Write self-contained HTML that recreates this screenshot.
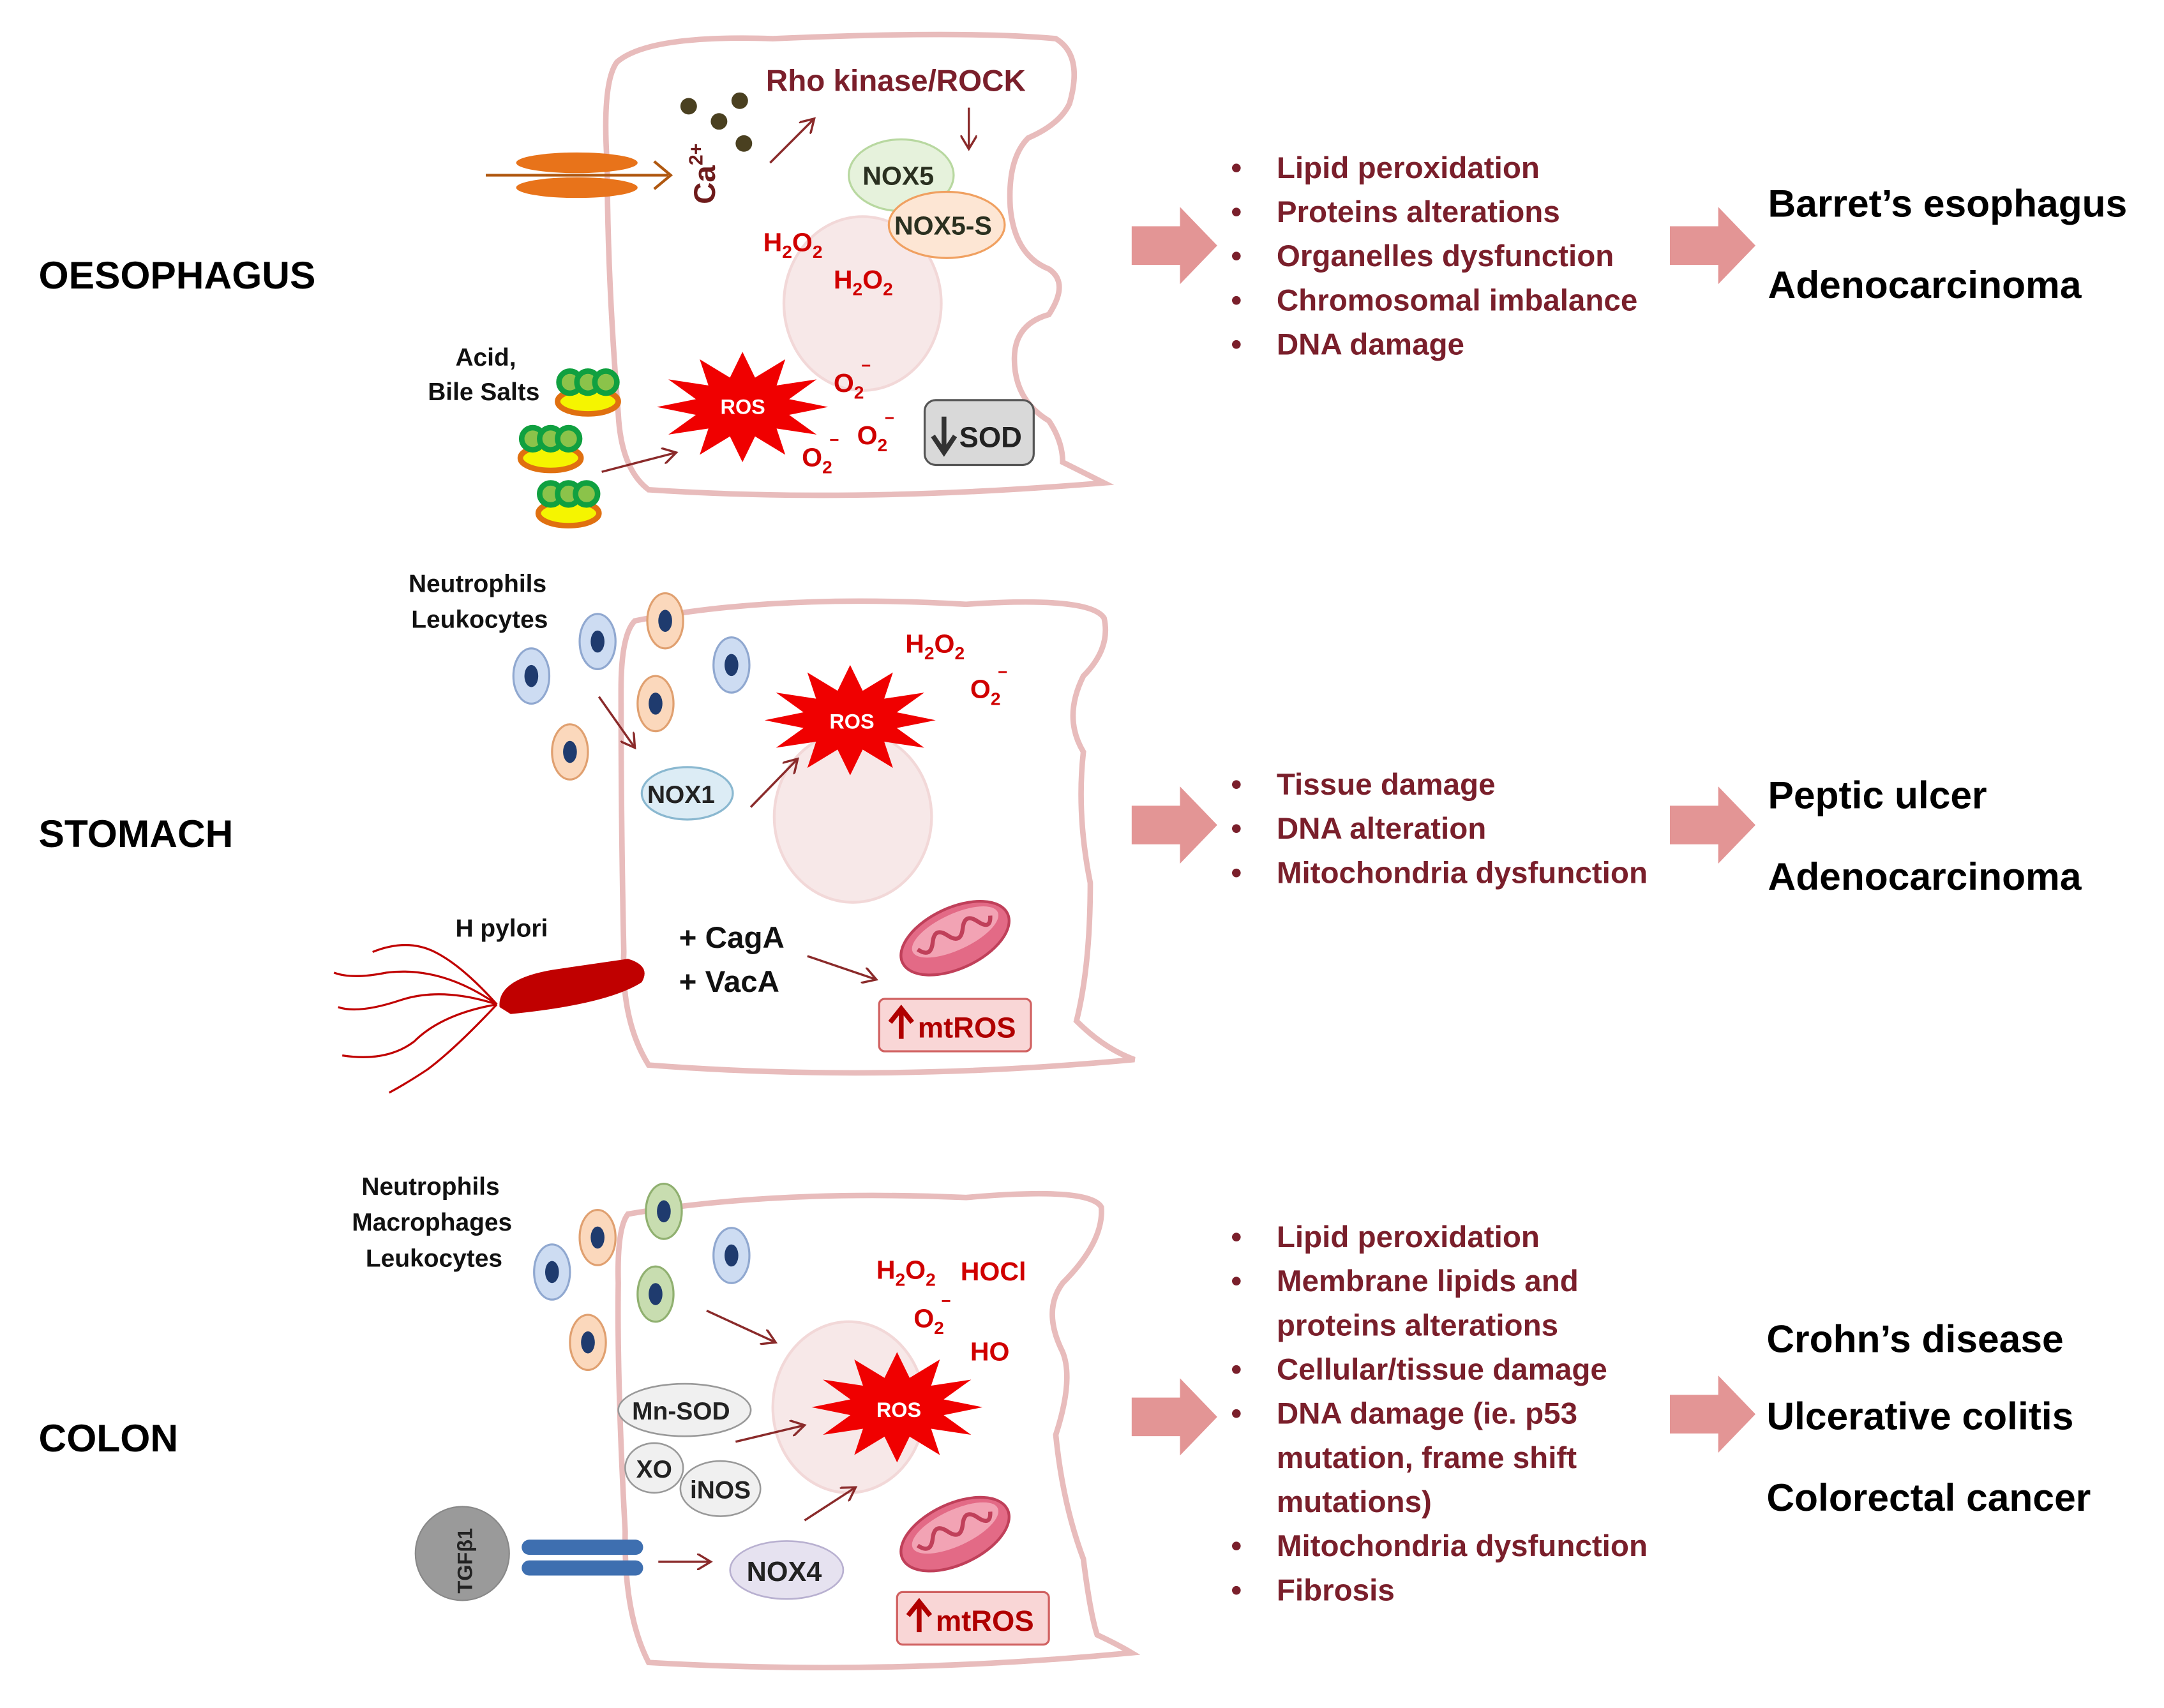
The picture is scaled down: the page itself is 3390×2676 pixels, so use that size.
<!DOCTYPE html>
<html><head><meta charset="utf-8"><style>
html,body{margin:0;padding:0;background:#fff;}
svg{display:block;}
text{font-family:"Liberation Sans",sans-serif;font-weight:bold;}
.b{fill:#7a1f2b;font-size:22px;}
.r{fill:#d00000;font-size:19px;}
.h{fill:#000;font-size:28px;}
.cell{fill:none;stroke:#e8bcbc;stroke-width:4;}
.nuc{fill:#f7e8e8;stroke:#f2d8d8;stroke-width:2;}
.ar{fill:none;stroke:#8a2a2a;stroke-width:1.6;}
</style></head><body>
<svg width="3390" height="2676" viewBox="0 0 1568 1238" preserveAspectRatio="none" xmlns="http://www.w3.org/2000/svg">
<defs>
<polygon id="star" points="62,0 33.8,5.7 53.7,20 24.7,15.6 31,34.6 9.1,21.3 0,40 -9.1,21.3 -31,34.6 -24.7,15.6 -53.7,20 -33.8,5.7 -62,0 -33.8,-5.7 -53.7,-20 -24.7,-15.6 -31,-34.6 -9.1,-21.3 0,-40 9.1,-21.3 31,-34.6 24.7,-15.6 53.7,-20 33.8,-5.7" fill="#f00000"/>
<g id="bcell"><ellipse rx="13" ry="20" fill="#cddcf2" stroke="#90a8d0" stroke-width="1.5"/><ellipse rx="5" ry="8" fill="#1f3b6e"/></g>
<g id="ocell"><ellipse rx="13" ry="20" fill="#fbd8bc" stroke="#e0a070" stroke-width="1.5"/><ellipse rx="5" ry="8" fill="#1f3b6e"/></g>
<g id="gcell"><ellipse rx="13" ry="20" fill="#c8ddb0" stroke="#90b070" stroke-width="1.5"/><ellipse rx="5" ry="8" fill="#1f3b6e"/></g>
<g id="bile"><ellipse cx="0" cy="12" rx="22" ry="9" fill="#f5f500" stroke="#e07010" stroke-width="4"/><circle cx="-13" cy="-2" r="8" fill="#8bc34a" stroke="#10a040" stroke-width="4"/><circle cx="0" cy="-2" r="8" fill="#8bc34a" stroke="#10a040" stroke-width="4"/><circle cx="13" cy="-2" r="8" fill="#8bc34a" stroke="#10a040" stroke-width="4"/></g>
<g id="bigarrow"><polygon points="0,-14 35,-14 35,-28 62,0 35,28 35,14 0,14" fill="#e39595"/></g>
<g id="mito"><ellipse rx="42" ry="22" fill="#e36a86" stroke="#c0405a" stroke-width="2"/><ellipse cx="2" cy="-4" rx="34" ry="13" fill="#f2a3b4"/><path d="M-28,-4 q6,10 12,0 q6,-10 12,0 q6,10 12,0 q6,-10 12,0 q6,10 10,0" stroke="#c0405a" stroke-width="3" fill="none"/></g>
<g id="uparr"><path d="M0,22 L0,2 M-8,10 L0,0 L8,10" stroke="#b00000" stroke-width="3.5" fill="none"/></g>
<marker id="m" markerWidth="12" markerHeight="12" refX="10" refY="6" orient="auto" markerUnits="userSpaceOnUse"><path d="M0,0 L10,6 L0,12" fill="none" stroke="#8a2a2a" stroke-width="1.6"/></marker>
</defs>

<text x="28" y="209" class="h">OESOPHAGUS</text>
<text x="28" y="614" class="h">STOMACH</text>
<text x="28" y="1052" class="h">COLON</text>

<!-- TOP CELL -->
<path class="cell" d="M447,45 Q470,25 560,28 Q700,22 765,28 Q785,40 775,75 Q768,90 745,100 Q730,115 732,150 Q735,185 760,195 Q775,205 760,228 Q735,235 735,260 Q735,290 760,305 Q770,320 770,335 Q790,345 800,350 Q620,365 470,355 Q450,340 448,300 Q440,200 440,120 Q436,60 447,45 Z"/>
<ellipse class="nuc" cx="625" cy="220" rx="57" ry="63"/>
<ellipse cx="418" cy="118" rx="44" ry="7.5" fill="#e8731a"/>
<ellipse cx="418" cy="136" rx="44" ry="7.5" fill="#e8731a"/>
<line x1="352" y1="127" x2="484" y2="127" stroke="#b05810" stroke-width="2"/>
<path d="M474,117 L486,127 L474,137" fill="none" stroke="#b05810" stroke-width="2"/>
<text transform="translate(518,148) rotate(-90)" style="font-size:22px;fill:#6e1b1b">Ca<tspan dy="-9" style="font-size:14px">2+</tspan></text>
<circle cx="499" cy="77" r="6" fill="#4a4020"/><circle cx="536" cy="73" r="6" fill="#4a4020"/><circle cx="521" cy="88" r="6" fill="#4a4020"/><circle cx="539" cy="104" r="6" fill="#4a4020"/>
<line class="ar" x1="558" y1="118" x2="590" y2="86" marker-end="url(#m)"/>
<text x="555" y="66" class="b" style="font-size:22px">Rho kinase/ROCK</text>
<line class="ar" x1="702" y1="78" x2="702" y2="108" marker-end="url(#m)"/>
<ellipse cx="653" cy="127" rx="38" ry="26" fill="#e6f2dc" stroke="#b8d8a0" stroke-width="1.5"/>
<text x="625" y="134" style="font-size:19px;fill:#2a3020">NOX5</text>
<ellipse cx="686" cy="163" rx="42" ry="24" fill="#fde6d4" stroke="#f0a060" stroke-width="1.5"/>
<text x="648" y="170" style="font-size:19px;fill:#2a3020">NOX5-S</text>
<text x="553" y="182" class="r">H<tspan dy="5" style="font-size:13px">2</tspan><tspan dy="-5">O</tspan><tspan dy="5" style="font-size:13px">2</tspan></text>
<text x="604" y="209" class="r">H<tspan dy="5" style="font-size:13px">2</tspan><tspan dy="-5">O</tspan><tspan dy="5" style="font-size:13px">2</tspan></text>
<use href="#star" x="538" y="295"/>
<text x="522" y="300" style="font-size:15px;fill:#fff">ROS</text>
<text x="604" y="284" class="r">O<tspan dy="5" style="font-size:13px">2</tspan><tspan dx="-2" dy="-20" style="font-size:12px">−</tspan></text>
<text x="621" y="322" class="r">O<tspan dy="5" style="font-size:13px">2</tspan><tspan dx="-2" dy="-20" style="font-size:12px">−</tspan></text>
<text x="581" y="338" class="r">O<tspan dy="5" style="font-size:13px">2</tspan><tspan dx="-2" dy="-20" style="font-size:12px">−</tspan></text>
<rect x="670" y="290" width="79" height="47" rx="8" fill="#d9d9d9" stroke="#555" stroke-width="1.5"/>
<path d="M684,302 L684,326 M676,316 L684,328 L692,316" stroke="#333" stroke-width="3.5" fill="none"/>
<text x="695" y="324" style="font-size:21px;fill:#222">SOD</text>
<text x="330" y="265" style="font-size:18px;fill:#111">Acid,</text>
<text x="310" y="290" style="font-size:18px;fill:#111">Bile Salts</text>
<use href="#bile" x="426" y="279"/>
<use href="#bile" x="399" y="320"/>
<use href="#bile" x="412" y="360"/>
<line class="ar" x1="436" y1="342" x2="490" y2="328" marker-end="url(#m)"/>

<use href="#bigarrow" x="820" y="178"/>
<g class="b">
<text x="892" y="129">•</text><text x="925" y="129">Lipid peroxidation</text>
<text x="892" y="161">•</text><text x="925" y="161">Proteins alterations</text>
<text x="892" y="193">•</text><text x="925" y="193">Organelles dysfunction</text>
<text x="892" y="225">•</text><text x="925" y="225">Chromosomal imbalance</text>
<text x="892" y="257">•</text><text x="925" y="257">DNA damage</text>
</g>
<use href="#bigarrow" x="1210" y="178"/>
<text x="1281" y="157" class="h">Barret’s esophagus</text>
<text x="1281" y="216" class="h">Adenocarcinoma</text>

<!-- MIDDLE CELL -->
<path class="cell" d="M460,450 Q560,430 700,438 Q790,432 800,448 Q805,470 785,490 Q770,520 785,545 Q780,590 790,640 Q790,700 780,740 Q800,760 822,768 Q640,785 470,772 Q450,740 452,690 Q450,600 450,500 Q450,460 460,450 Z"/>
<ellipse class="nuc" cx="618" cy="592" rx="57" ry="62"/>
<text x="296" y="429" style="font-size:18px;fill:#111">Neutrophils</text>
<text x="298" y="455" style="font-size:18px;fill:#111">Leukocytes</text>
<use href="#bcell" x="385" y="490"/>
<use href="#bcell" x="433" y="465"/>
<use href="#ocell" x="482" y="450"/>
<use href="#ocell" x="475" y="510"/>
<use href="#bcell" x="530" y="482"/>
<use href="#ocell" x="413" y="545"/>
<line class="ar" x1="434" y1="505" x2="460" y2="542" marker-end="url(#m)"/>
<ellipse cx="498" cy="575" rx="33" ry="19" fill="#dcecf5" stroke="#8ab8d0" stroke-width="1.5"/>
<text x="469" y="582" style="font-size:18px;fill:#222">NOX1</text>
<line class="ar" x1="544" y1="585" x2="578" y2="550" marker-end="url(#m)"/>
<use href="#star" x="616" y="522"/>
<text x="601" y="528" style="font-size:15px;fill:#fff">ROS</text>
<text x="656" y="473" class="r">H<tspan dy="5" style="font-size:13px">2</tspan><tspan dy="-5">O</tspan><tspan dy="5" style="font-size:13px">2</tspan></text>
<text x="703" y="506" class="r">O<tspan dy="5" style="font-size:13px">2</tspan><tspan dx="-2" dy="-20" style="font-size:12px">−</tspan></text>
<text x="330" y="679" style="font-size:18px;fill:#111">H pylori</text>
<g fill="none" stroke="#c00000" stroke-width="1.5">
<path d="M360,728 Q320,700 280,705 Q255,710 242,705"/>
<path d="M360,728 Q320,715 290,725 Q260,735 245,730"/>
<path d="M360,728 Q320,735 300,755 Q280,770 248,765"/>
<path d="M360,728 Q330,760 310,775 Q295,785 282,792"/>
<path d="M360,728 Q335,700 315,690 Q295,680 270,690"/>
</g>
<path d="M362,730 Q360,710 400,703 L455,695 Q472,700 465,712 Q440,728 370,735 Z" fill="#c00000"/>
<text x="492" y="687" style="font-size:22px;fill:#111">+ CagA</text>
<text x="492" y="719" style="font-size:22px;fill:#111">+ VacA</text>
<line class="ar" x1="585" y1="693" x2="635" y2="710" marker-end="url(#m)"/>
<use href="#mito" transform="translate(692,680) rotate(-25)"/>
<rect x="637" y="724" width="110" height="38" rx="4" fill="#f9d6d6" stroke="#d06060" stroke-width="1.5"/>
<use href="#uparr" x="653" y="731"/>
<text x="665" y="752" style="font-size:21px;fill:#b00000">mtROS</text>

<use href="#bigarrow" x="820" y="598"/>
<g class="b">
<text x="892" y="576">•</text><text x="925" y="576">Tissue damage</text>
<text x="892" y="608">•</text><text x="925" y="608">DNA alteration</text>
<text x="892" y="640">•</text><text x="925" y="640">Mitochondria dysfunction</text>
</g>
<use href="#bigarrow" x="1210" y="598"/>
<text x="1281" y="586" class="h">Peptic ulcer</text>
<text x="1281" y="645" class="h">Adenocarcinoma</text>

<!-- BOTTOM CELL -->
<path class="cell" d="M455,880 Q560,862 700,868 Q790,860 798,875 Q800,900 770,930 Q755,950 770,980 Q778,1000 765,1040 Q770,1090 785,1130 Q790,1170 795,1185 Q810,1192 820,1198 Q640,1215 470,1205 Q452,1170 453,1110 Q447,1000 448,930 Q447,890 455,880 Z"/>
<ellipse class="nuc" cx="615" cy="1020" rx="55" ry="62"/>
<text x="262" y="866" style="font-size:18px;fill:#111">Neutrophils</text>
<text x="255" y="892" style="font-size:18px;fill:#111">Macrophages</text>
<text x="265" y="918" style="font-size:18px;fill:#111">Leukocytes</text>
<use href="#ocell" x="433" y="897"/>
<use href="#gcell" x="481" y="878"/>
<use href="#bcell" x="400" y="922"/>
<use href="#gcell" x="475" y="938"/>
<use href="#bcell" x="530" y="910"/>
<use href="#ocell" x="426" y="973"/>
<line class="ar" x1="512" y1="950" x2="562" y2="973" marker-end="url(#m)"/>
<text x="635" y="927" class="r">H<tspan dy="5" style="font-size:13px">2</tspan><tspan dy="-5">O</tspan><tspan dy="5" style="font-size:13px">2</tspan></text>
<text x="696" y="928" class="r">HOCl</text>
<text x="662" y="962" class="r">O<tspan dy="5" style="font-size:13px">2</tspan><tspan dx="-2" dy="-20" style="font-size:12px">−</tspan></text>
<text x="703" y="986" class="r">HO</text>
<use href="#star" x="650" y="1020"/>
<text x="635" y="1027" style="font-size:15px;fill:#fff">ROS</text>
<ellipse cx="496" cy="1022" rx="48" ry="19" fill="#f0f0f0" stroke="#999" stroke-width="1.2"/>
<text x="458" y="1029" style="font-size:18px;fill:#222">Mn-SOD</text>
<ellipse cx="474" cy="1064" rx="21" ry="18" fill="#f0f0f0" stroke="#999" stroke-width="1.2"/>
<text x="461" y="1071" style="font-size:18px;fill:#222">XO</text>
<ellipse cx="522" cy="1079" rx="29" ry="20" fill="#f0f0f0" stroke="#999" stroke-width="1.2"/>
<text x="500" y="1086" style="font-size:18px;fill:#222">iNOS</text>
<line class="ar" x1="533" y1="1045" x2="583" y2="1033" marker-end="url(#m)"/>
<line class="ar" x1="583" y1="1102" x2="620" y2="1078" marker-end="url(#m)"/>
<circle cx="335" cy="1126" r="34" fill="#9a9a9a" stroke="#888" stroke-width="1"/>
<text transform="translate(342,1155) rotate(-90)" style="font-size:15px;fill:#222">TGFβ1</text>
<rect x="378" y="1116" width="88" height="11" rx="5.5" fill="#3e6fb0"/>
<rect x="378" y="1131" width="88" height="11" rx="5.5" fill="#3e6fb0"/>
<line class="ar" x1="477" y1="1132" x2="515" y2="1132" marker-end="url(#m)"/>
<ellipse cx="570" cy="1138" rx="41" ry="21" fill="#e6e2f0" stroke="#b8b0d0" stroke-width="1.2"/>
<text x="541" y="1146" style="font-size:20px;fill:#222">NOX4</text>
<use href="#mito" transform="translate(692,1112) rotate(-25)"/>
<rect x="650" y="1154" width="110" height="38" rx="4" fill="#f9d6d6" stroke="#d06060" stroke-width="1.5"/>
<use href="#uparr" x="666" y="1161"/>
<text x="678" y="1182" style="font-size:21px;fill:#b00000">mtROS</text>

<use href="#bigarrow" x="820" y="1027"/>
<g class="b">
<text x="892" y="904">•</text><text x="925" y="904">Lipid peroxidation</text>
<text x="892" y="936">•</text><text x="925" y="936">Membrane lipids and</text>
<text x="925" y="968">proteins alterations</text>
<text x="892" y="1000">•</text><text x="925" y="1000">Cellular/tissue damage</text>
<text x="892" y="1032">•</text><text x="925" y="1032">DNA damage (ie. p53</text>
<text x="925" y="1064">mutation, frame shift</text>
<text x="925" y="1096">mutations)</text>
<text x="892" y="1128">•</text><text x="925" y="1128">Mitochondria dysfunction</text>
<text x="892" y="1160">•</text><text x="925" y="1160">Fibrosis</text>
</g>
<use href="#bigarrow" x="1210" y="1025"/>
<text x="1280" y="980" class="h">Crohn’s disease</text>
<text x="1280" y="1036" class="h">Ulcerative colitis</text>
<text x="1280" y="1095" class="h">Colorectal cancer</text>
</svg>
</body></html>
